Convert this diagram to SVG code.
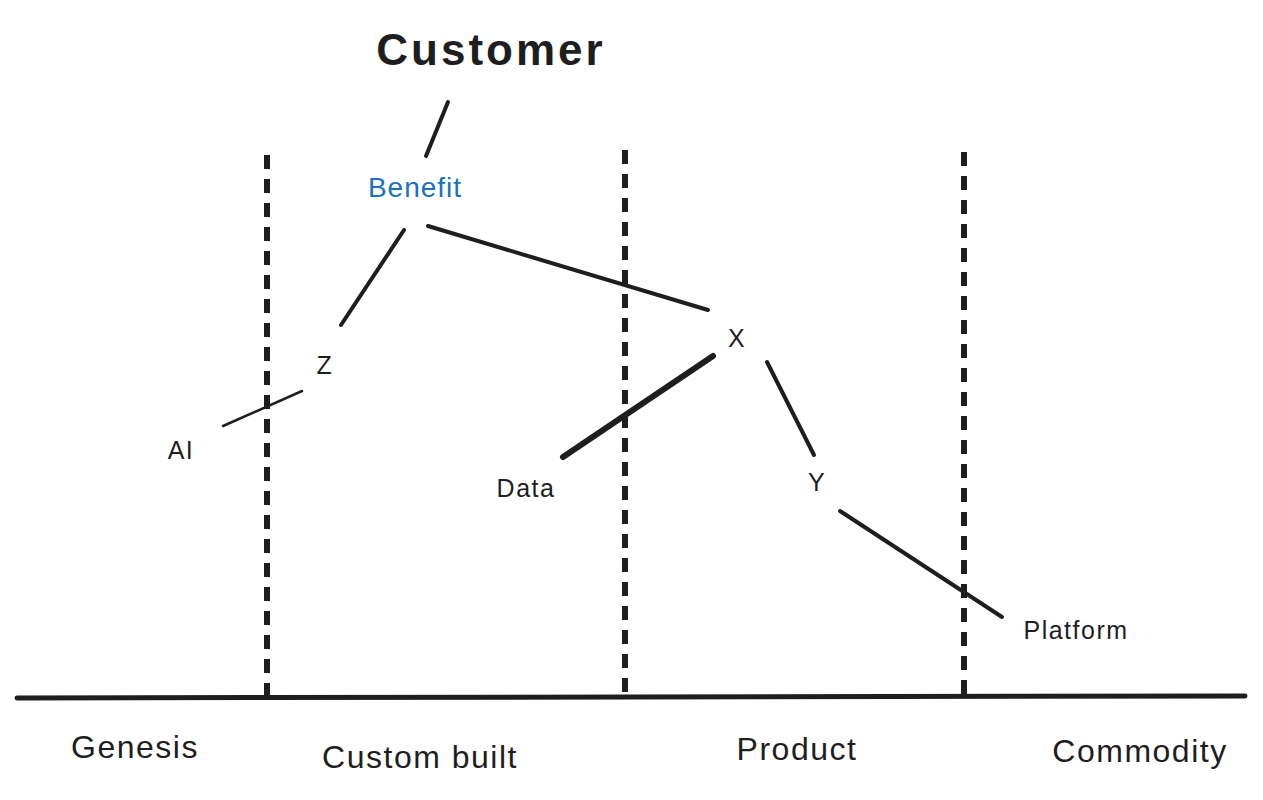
<svg xmlns="http://www.w3.org/2000/svg" width="1263" height="800" viewBox="0 0 1263 800">
<style>
text{font-family:"Liberation Sans","DejaVu Sans",sans-serif;fill:#1e1e1e;text-anchor:middle}
.lbl{font-size:32px;letter-spacing:1.5px}
.n{font-size:25px;letter-spacing:1.5px}
.c{stroke:#1e1e1e;stroke-linecap:round;fill:none}
.d{stroke:#1e1e1e;stroke-width:6;stroke-dasharray:14 10;fill:none}
</style>
<rect width="1263" height="800" fill="#fff"/>
<g id="axis">
<line x1="17" y1="698" x2="1245" y2="696" stroke="#1e1e1e" stroke-width="5" stroke-linecap="round"/>
<line class="d" x1="267" y1="155" x2="267" y2="697"/>
<line class="d" x1="625" y1="150" x2="625" y2="697"/>
<line class="d" x1="964" y1="152" x2="964" y2="697"/>
<text class="lbl" x="135" y="758">Genesis</text>
<text class="lbl" x="420" y="768">Custom built</text>
<text class="lbl" x="797" y="760">Product</text>
<text class="lbl" x="1140" y="762">Commodity</text>
</g>
<g id="connectors">
<line class="c" stroke-width="4" x1="448" y1="102" x2="426" y2="156"/>
<line class="c" stroke-width="4" x1="404" y1="230" x2="341" y2="325"/>
<line class="c" stroke-width="4" x1="428" y1="226" x2="708" y2="310"/>
<line class="c" stroke-width="2.5" x1="223" y1="426" x2="302" y2="391"/>
<line class="c" stroke-width="6" x1="713" y1="356" x2="563" y2="457"/>
<line class="c" stroke-width="4" x1="767" y1="362" x2="814" y2="455"/>
<line class="c" stroke-width="4" x1="840" y1="511" x2="1002" y2="617"/>
</g>
<g id="customer"><text x="491" y="65" font-size="44" font-weight="bold" letter-spacing="3">Customer</text></g>
<g id="benefit"><text x="415" y="197" font-size="28" letter-spacing="1" style="fill:#1971c2">Benefit</text></g>
<g id="z"><text class="n" x="325" y="374">Z</text></g>
<g id="ai"><text class="n" x="181" y="459">AI</text></g>
<g id="x"><text class="n" x="737" y="347">X</text></g>
<g id="data"><text class="n" x="526" y="497">Data</text></g>
<g id="y"><text class="n" x="817" y="491">Y</text></g>
<g id="platform"><text class="n" x="1076" y="639">Platform</text></g>
</svg>
